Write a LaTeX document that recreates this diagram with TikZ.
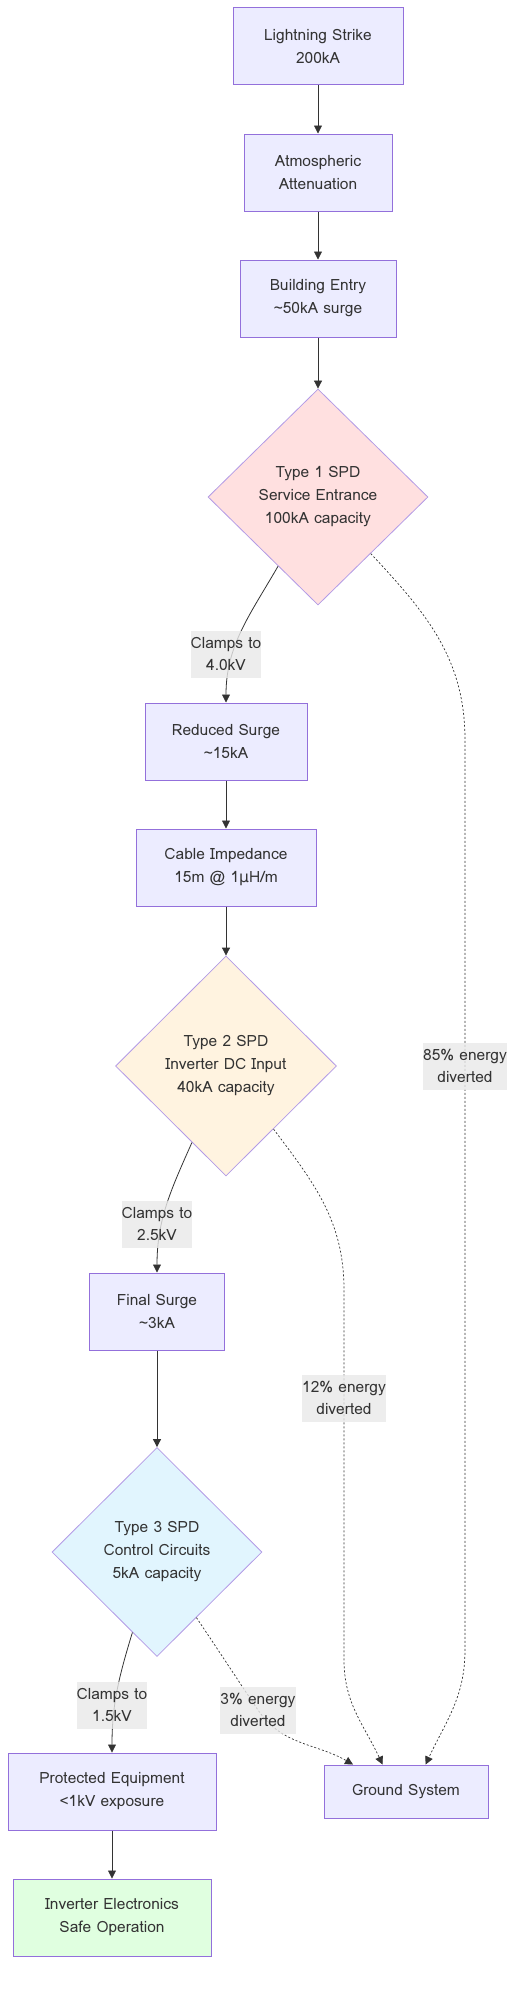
\documentclass[tikz,border=0pt]{standalone}
\usepackage{fontspec}
\setmainfont{Loma}
\newfontfamily\greekfont{DejaVu Sans}
\usetikzlibrary{shapes.geometric,arrows.meta}
\definecolor{boxfill}{HTML}{ECECFF}
\definecolor{boxline}{HTML}{9370DB}
\definecolor{inkgray}{HTML}{333333}
\definecolor{spdone}{HTML}{FFE0E0}
\definecolor{spdtwo}{HTML}{FFF3E0}
\definecolor{spdthree}{HTML}{E1F5FE}
\definecolor{safegreen}{HTML}{E0FFE0}
\definecolor{labelbg}{HTML}{E8E8E8}
\tikzset{
  stage/.style={draw=boxline, fill=boxfill, line width=1pt, align=center,
    inner sep=0pt, minimum height=77pt, text=inkgray},
  spd/.style={diamond, draw=boxline!70, fill=#1, line width=0.8pt, align=center,
    inner sep=0pt, text=inkgray},
  flow/.style={draw=inkgray, line width=0.8pt, -{Triangle[length=8pt,width=8pt]}},
  divert/.style={flow, line width=0.7pt, dash pattern=on 2pt off 2pt},
  elabel/.style={fill=labelbg, fill opacity=0.8, text opacity=1, align=center,
    inner sep=0pt, text=inkgray, font=\fontsize{15.5}{22}\selectfont}
}
\begin{document}
\begin{tikzpicture}[x=1pt, y=1pt, font=\fontsize{15.5}{23}\selectfont]
    \useasboundingbox (0,0) rectangle (520,-1992);
    % main path
    \node[stage, minimum width=170pt] (strike) at (318,-46) {Lightning Strike\\200kA};
    \node[stage, minimum width=148pt] (atmos) at (318,-172.5) {Atmospheric\\Attenuation};
    \node[stage, minimum width=156pt] (entry) at (318,-298.5) {Building Entry\\\textasciitilde50kA surge};
    \node[spd=spdone, minimum width=220pt, minimum height=216pt] (spdA) at (318,-497) {Type 1 SPD\\Service Entrance\\100kA capacity};
    \node[stage, minimum width=162pt] (reduced) at (226,-741.5) {Reduced Surge\\\textasciitilde15kA};
    \node[stage, minimum width=180pt] (cable) at (226,-867.5) {Cable Impedance\\15m @ 1{\greekfont μ}H/m};
    \node[spd=spdtwo, minimum width=221pt, minimum height=220pt] (spdB) at (226,-1066) {Type 2 SPD\\Inverter DC Input\\40kA capacity};
    \node[stage, minimum width=135pt] (final) at (157,-1311.5) {Final Surge\\\textasciitilde3kA};
    \node[spd=spdthree, minimum width=210pt, minimum height=209pt] (spdC) at (157,-1552) {Type 3 SPD\\Control Circuits\\5kA capacity};
    \node[stage, minimum width=208pt] (protected) at (112,-1791.5) {Protected Equipment\\<1kV exposure};
    \node[stage, fill=safegreen, minimum width=198pt] (inverter) at (112,-1917.5) {Inverter Electronics\\Safe Operation};
    \node[stage, minimum width=164pt, minimum height=53pt] (ground) at (406,-1791.5) {Ground System};

    \coordinate (c3) at (258,-1710);
    \coordinate (k1) at (465,-740);
    \coordinate (k2) at (465,-1650);
    \coordinate (k3) at (344,-1290);
    \coordinate (k4) at (344,-1660);

    \draw[flow] (strike) -- (atmos);
    \draw[flow] (atmos) -- (entry);
    \draw[flow] (entry) -- (spdA);
    \draw[flow] (spdA.240) to[out=240, in=90] (reduced.north);
    \draw[flow] (reduced) -- (cable);
    \draw[flow] (cable) -- (spdB);
    \draw[flow] (spdB.246) to[out=246, in=90] (final.north);
    \draw[flow] (final) -- (spdC);
    \draw[flow] (spdC.253) to[out=253, in=90] (protected.north);
    \draw[flow] (protected) -- (inverter);

    % energy sent to ground
    \draw[divert] (spdA.-47) to[out=-47, in=90] (k1) -- (k2) to[out=-90, in=65] (ground.54);
    \draw[divert] (spdB.-53) to[out=-53, in=90] (k3) -- (k4) to[out=-90, in=115] (ground.131);
    \draw[divert] (spdC.-59) to[out=-56, in=124] (c3) to[out=-56, in=150] (ground.153);

    \node[elabel, minimum width=69pt, minimum height=47pt] (clampA) at (226,-654) {Clamps to\\4.0kV};
    \node[elabel, minimum width=69pt, minimum height=47pt] (clampB) at (157,-1224) {Clamps to\\2.5kV};
    \node[elabel, minimum width=69pt, minimum height=47pt] (clampC) at (112,-1705) {Clamps to\\1.5kV};
    \node[elabel, minimum width=78pt, minimum height=47pt] (lossA) at (465,-1066) {85\% energy\\diverted};
    \node[elabel, minimum width=78pt, minimum height=47pt] (lossB) at (344,-1398) {12\% energy\\diverted};
    \node[elabel, minimum width=69pt, minimum height=47pt] (lossC) at (c3) {3\% energy\\diverted};
\end{tikzpicture}
\end{document}
